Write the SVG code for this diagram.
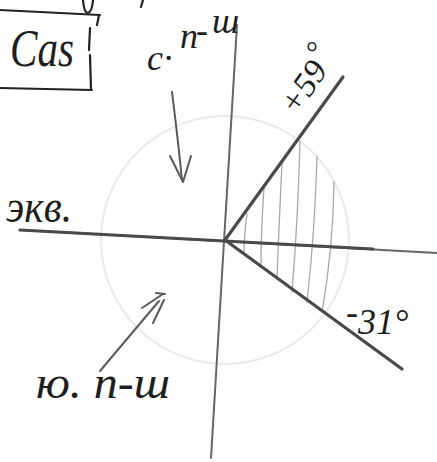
<svg xmlns="http://www.w3.org/2000/svg" width="437" height="462" viewBox="0 0 437 462">
<style>
.hw{font-family:"Liberation Serif",serif;font-style:italic;fill:#1e1e1e}
.ink{fill:none;stroke:#222;stroke-width:2.2;stroke-linecap:round;stroke-linejoin:round}
.axis{fill:none;stroke:#666;stroke-width:2;stroke-linecap:round}
.bold{fill:none;stroke:#4a4a4a;stroke-width:3.2;stroke-linecap:round}
.hatch{fill:none;stroke:#a8a8a8;stroke-width:1.3;stroke-linecap:round}
.arr{fill:none;stroke:#5a5a5a;stroke-width:2;stroke-linecap:round;stroke-linejoin:round}
</style>
<rect width="437" height="462" fill="#fff"/>

<g id="fragments">
  <path class="ink" d="M83,0 Q84,13 88,13 Q92,12 93,0"/>
  <path class="ink" d="M143,0 L141,7"/>
</g>

<g id="box-cas">
  <path class="ink" d="M0,10 L100,15 M99,15 L97,25 M90,28 L89,50 M90,55 L91,90 M0,88 L92,90"/>
  <text class="hw" x="10" y="66" font-size="52" textLength="64" lengthAdjust="spacingAndGlyphs">Cas</text>
</g>

<g id="zone">
  <circle cx="225" cy="240" r="124" fill="none" stroke="#ebebeb" stroke-width="2.2"/>
  <path class="hatch" d="M247,214 Q244,235 244,254"/>
  <path class="hatch" d="M264,188 Q261,230 261,266"/>
  <path class="hatch" d="M282,163 Q279,225 277,279"/>
  <path class="hatch" d="M300,141 Q298,220 292,292"/>
  <path class="hatch" d="M317,157 Q315,230 307,302"/>
  <path class="hatch" d="M334,182 Q333,250 322,312"/>
</g>

<g id="connectors">
  <path class="axis" d="M237,25 L211,458"/>
  <path class="axis" d="M20,230 L437,253"/>
  <path class="bold" d="M20,230 L373,249"/>
  <path class="bold" d="M225,240 L343,77"/>
  <path class="bold" d="M225,240 L402,369"/>
  <path class="arr" d="M172,92 Q178,140 182,180"/>
  <path class="arr" d="M170,156 L183,182 L191,156"/>
  <path class="arr" d="M100,371 L159,301"/>
  <path class="arr" d="M142,308 L163,294 M153,323 L164,300 M156,293 L165,294"/>
</g>

<g id="label-north">
  <text class="hw" font-size="36" x="147 165 172 180 196 212" y="70 60 54 48 42 33">с. п-ш</text>
</g>

<g id="label-equator">
  <text class="hw" x="6" y="222" font-size="46" textLength="66" lengthAdjust="spacingAndGlyphs">экв.</text>
</g>

<g id="label-plus59">
  <text class="hw" x="296" y="117" font-size="34" transform="rotate(-55 296 117)">+59</text>
  <text class="hw" x="305" y="62" font-size="30">°</text>
</g>

<g id="label-minus31">
  <text class="hw" x="346" y="334" font-size="36"><tspan dy="-10">-</tspan><tspan dy="10">31°</tspan></text>
</g>

<g id="label-south">
  <text class="hw" x="36" y="398" font-size="46" textLength="134" lengthAdjust="spacingAndGlyphs">ю. п-ш</text>
</g>
</svg>
